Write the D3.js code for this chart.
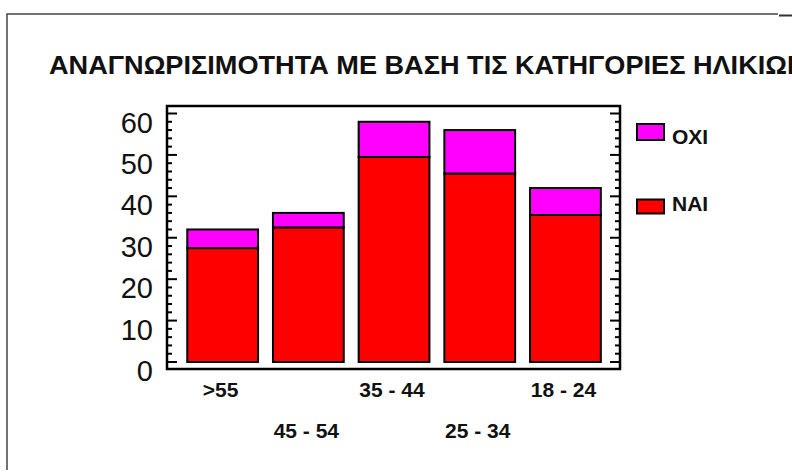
<!DOCTYPE html>
<html lang="el">
<head>
<meta charset="UTF-8">
<title>Αναγνωρισιμότητα με βάση τις κατηγορίες ηλικιών</title>
<script src="https://d3js.org/d3.v7.min.js"></script>
<style>
    body { margin: 0; background: #fff; }
    svg { display: block; font-family: "Liberation Sans", Arial, sans-serif; }
    .ylab { font-size: 29px; fill: #111; }
    .xlab { font-size: 21px; font-weight: bold; fill: #111; }
    .leg { font-size: 21px; font-weight: bold; fill: #111; }
</style>
</head>
<body>
<svg width="792" height="472"></svg>
<script>
    // data
    const categories = [">55", "45 - 54", "35 - 44", "25 - 34", "18 - 24"];
    const nai = [27.5, 32.5, 49.5, 45.5, 35.5];
    const oxi = [4.5, 3.5, 8.5, 10.5, 6.5];
    const yTicks = [0, 10, 20, 30, 40, 50, 60];
    const seriesNames = ["ΝΑΙ", "ΟΧΙ"];
    const colors = { "ΝΑΙ": "#ff0000", "ΟΧΙ": "#ff00ff" };
    const title = "ΑΝΑΓΝΩΡΙΣΙΜΟΤΗΤΑ ΜΕ ΒΑΣΗ ΤΙΣ ΚΑΤΗΓΟΡΙΕΣ ΗΛΙΚΙΩΝ";

    const svg = d3.select("svg");
    svg.append("rect").attr("width", 792).attr("height", 472).attr("fill", "#fff");

    // outer frame (left + top only, as in the source)
    svg.append("path")
        .attr("d", "M7,470V14H778")
        .attr("fill", "none").attr("stroke", "#444").attr("stroke-width", 1.5);
    svg.append("line")
        .attr("x1", 779).attr("x2", 792).attr("y1", 15.5).attr("y2", 15.5)
        .attr("stroke", "#333").attr("stroke-width", 2);

    // title, squeezed so the last letter starts where it does in the source
    const t = svg.append("text")
        .attr("x", 49).attr("y", 74)
        .style("font-size", "26px").style("font-weight", "bold").attr("fill", "#111")
        .text(title);
    const lastX = t.node().getStartPositionOfChar(title.length - 1).x;
    const fullW = t.node().getComputedTextLength();
    t.attr("textLength", fullW * (787 - 49) / (lastX - 49)).attr("lengthAdjust", "spacingAndGlyphs");

    const plot = { left: 167, right: 620, top: 106, bottom: 369 };

    const x = d3.scaleBand()
        .domain(categories)
        .range([178.7, 609.4])
        .paddingInner(0.174)
        .paddingOuter(0.1);

    const y = d3.scaleLinear().domain([0, 60]).range([362, 113.5]);

    // stacked bars
    const rows = categories.map((c, i) => ({ cat: c, "ΝΑΙ": nai[i], "ΟΧΙ": oxi[i] }));
    const stacked = d3.stack().keys(seriesNames)(rows);

    svg.append("g").selectAll("g")
        .data(stacked)
        .join("g")
        .attr("fill", d => colors[d.key])
        .selectAll("rect")
        .data(d => d)
        .join("rect")
        .attr("x", d => x(d.data.cat))
        .attr("width", x.bandwidth())
        .attr("y", d => y(d[1]))
        .attr("height", d => y(d[0]) - y(d[1]))
        .attr("stroke", "#000")
        .attr("stroke-width", 2);

    // plot frame
    svg.append("rect")
        .attr("x", plot.left).attr("y", plot.top)
        .attr("width", plot.right - plot.left).attr("height", plot.bottom - plot.top)
        .attr("fill", "none").attr("stroke", "#000").attr("stroke-width", 2.5);

    // inward ticks on both sides, minor every 2
    const minor = d3.range(0, 61, 2);
    const ticksG = svg.append("g").attr("stroke", "#000").attr("stroke-width", 2);
    minor.forEach(v => {
        const len = v % 10 === 0 ? 10 : 5;
        ticksG.append("line").attr("x1", plot.left).attr("x2", plot.left + len)
            .attr("y1", y(v)).attr("y2", y(v));
        ticksG.append("line").attr("x1", plot.right).attr("x2", plot.right - len)
            .attr("y1", y(v)).attr("y2", y(v));
    });

    // y labels
    svg.append("g").selectAll("text")
        .data(yTicks)
        .join("text")
        .attr("class", "ylab")
        .attr("x", 153)
        .attr("y", d => y(d) + 19)
        .attr("text-anchor", "end")
        .text(d => d);

    // category labels, staggered in two rows
    svg.append("g").selectAll("text")
        .data(categories)
        .join("text")
        .attr("class", "xlab")
        .attr("x", d => x(d) + x.bandwidth() / 2 - 2)
        .attr("y", (d, i) => i % 2 === 0 ? 396.5 : 438)
        .attr("text-anchor", "middle")
        .text(d => d);

    // legend
    const legend = [
        { name: "ΟΧΙ", y: 124, h: 16, ty: 143.5 },
        { name: "ΝΑΙ", y: 199.5, h: 14, ty: 210.5 }
    ];
    const lg = svg.append("g").selectAll("g").data(legend).join("g");
    lg.append("rect")
        .attr("x", 637).attr("y", d => d.y)
        .attr("width", 27).attr("height", d => d.h)
        .attr("fill", d => colors[d.name])
        .attr("stroke", "#000").attr("stroke-width", 2);
    lg.append("text")
        .attr("class", "leg")
        .attr("x", 672).attr("y", d => d.ty)
        .text(d => d.name);
</script>
</body>
</html>
